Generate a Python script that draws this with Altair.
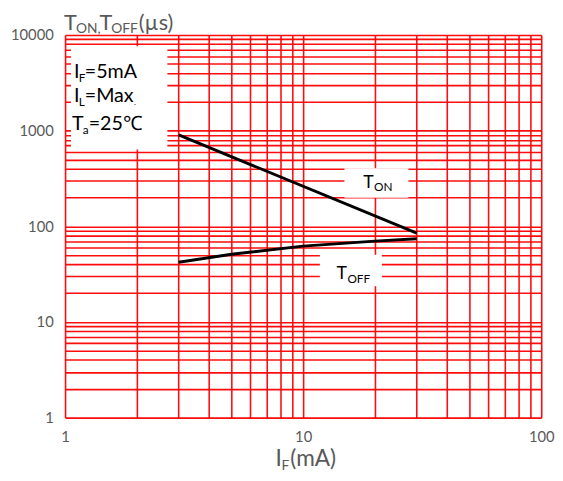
import altair as alt
import pandas as pd

# ---- data ----
ton_if = [3, 30]
ton_t = [900, 85]
toff_if = [3, 5, 10, 20, 30]
toff_t = [42, 51, 62, 70, 74]

x_grid = [1, 2, 3, 4, 5, 6, 7, 8, 9, 10, 20, 30, 40, 50, 60, 70, 80, 90, 100]
y_grid = [m * 10 ** e for e in range(0, 4) for m in range(1, 10)] + [10000]
x_labels = [1, 10, 100]
y_labels = [1, 10, 100, 1000, 10000]

FONT = "Lato"
GRAY = "#595959"
W, H = 484, 389

df = pd.concat([
    pd.DataFrame({"IF": ton_if, "T": ton_t, "s": "TON"}),
    pd.DataFrame({"IF": toff_if, "T": toff_t, "s": "TOFF"}),
])

xlab_expr = "indexof([" + ",".join(str(v) for v in x_labels) + "], datum.value) >= 0 ? datum.value : ''"
ylab_expr = "indexof([" + ",".join(str(v) for v in y_labels) + "], datum.value) >= 0 ? datum.value : ''"

xs = alt.X("IF:Q", scale=alt.Scale(type="log", domain=[1, 100], nice=False),
           axis=alt.Axis(values=x_grid, labelExpr=xlab_expr, format="d", title=None,
                         ticks=False, domain=False, grid=True, gridColor="#FF0000",
                         gridOpacity=0.95, gridWidth=1.6, labelColor=GRAY, labelFont=FONT,
                         labelFontSize=15, labelPadding=12, labelFlush=False))
ys = alt.Y("T:Q", scale=alt.Scale(type="log", domain=[1, 10000], nice=False),
           axis=alt.Axis(values=y_grid, labelExpr=ylab_expr, format="d", title=None,
                         ticks=False, domain=False, grid=True, gridColor="#FF0000",
                         gridOpacity=0.95, gridWidth=1.6, labelColor=GRAY, labelFont=FONT,
                         labelFontSize=15, labelPadding=12, labelFlush=False))

one = alt.Data(values=[{}])


def box(x1, x2, y1, y2):
    return alt.Chart(one).mark_rect(color="white").encode(
        x=alt.value(x1), x2=alt.value(x2), y=alt.value(y1), y2=alt.value(y2))


def txt(s, px, py, size, color="black"):
    return alt.Chart(one).mark_text(text=s, align="left", baseline="alphabetic",
                                    font=FONT, fontSize=size, color=color).encode(
        x=alt.value(px), y=alt.value(py))


lines = alt.Chart(df).mark_line(color="black", strokeWidth=3, clip=True).encode(
    x=xs, y=ys, detail="s:N")

layers = [
    lines,
    box(6, 104, 11.5, 116.5),
    box(284, 349, 135.5, 165.5),
    box(259, 322, 223.5, 255.5),
    # annotation box
    txt("I", 9, 43.5, 20), txt("F", 14, 47.5, 12), txt("=5mA", 20, 43.5, 20),
    txt("I", 9, 68.5, 20), txt("L", 14, 72.5, 12), txt("=Max", 20, 68.5, 20), txt(".", 70, 71, 8),
    txt("T", 7, 96.5, 20), txt("a", 18, 100.5, 12), txt("=25\u2103", 24, 96.5, 20),
    # curve labels
    txt("T", 303, 155.5, 18), txt("ON", 314, 159, 12),
    txt("T", 276, 248.5, 18), txt("OFF", 287, 252.5, 12),
    # y title
    txt("T", -1, -5, 22, GRAY), txt("ON,", 11, -1.5, 14, GRAY),
    txt("T", 35, -5, 22, GRAY), txt("OFF", 47, -1.5, 14, GRAY),
    txt("(\u00b5s)", 75, -5, 22, GRAY),
    # x title
    txt("I", 214, 438, 23, GRAY), txt("F", 220, 442, 14, GRAY),
    txt("(mA)", 229, 438, 23, GRAY),
]

chart = alt.layer(*layers).properties(
    width=W, height=H,
    autosize=alt.AutoSizeParams(type="none"),
    padding={"left": 58, "top": 23.5, "right": 14, "bottom": 58},
).configure_view(stroke=None).configure(background="white")

chart.save("out.html", embed_options={"renderer": "svg", "actions": False})
